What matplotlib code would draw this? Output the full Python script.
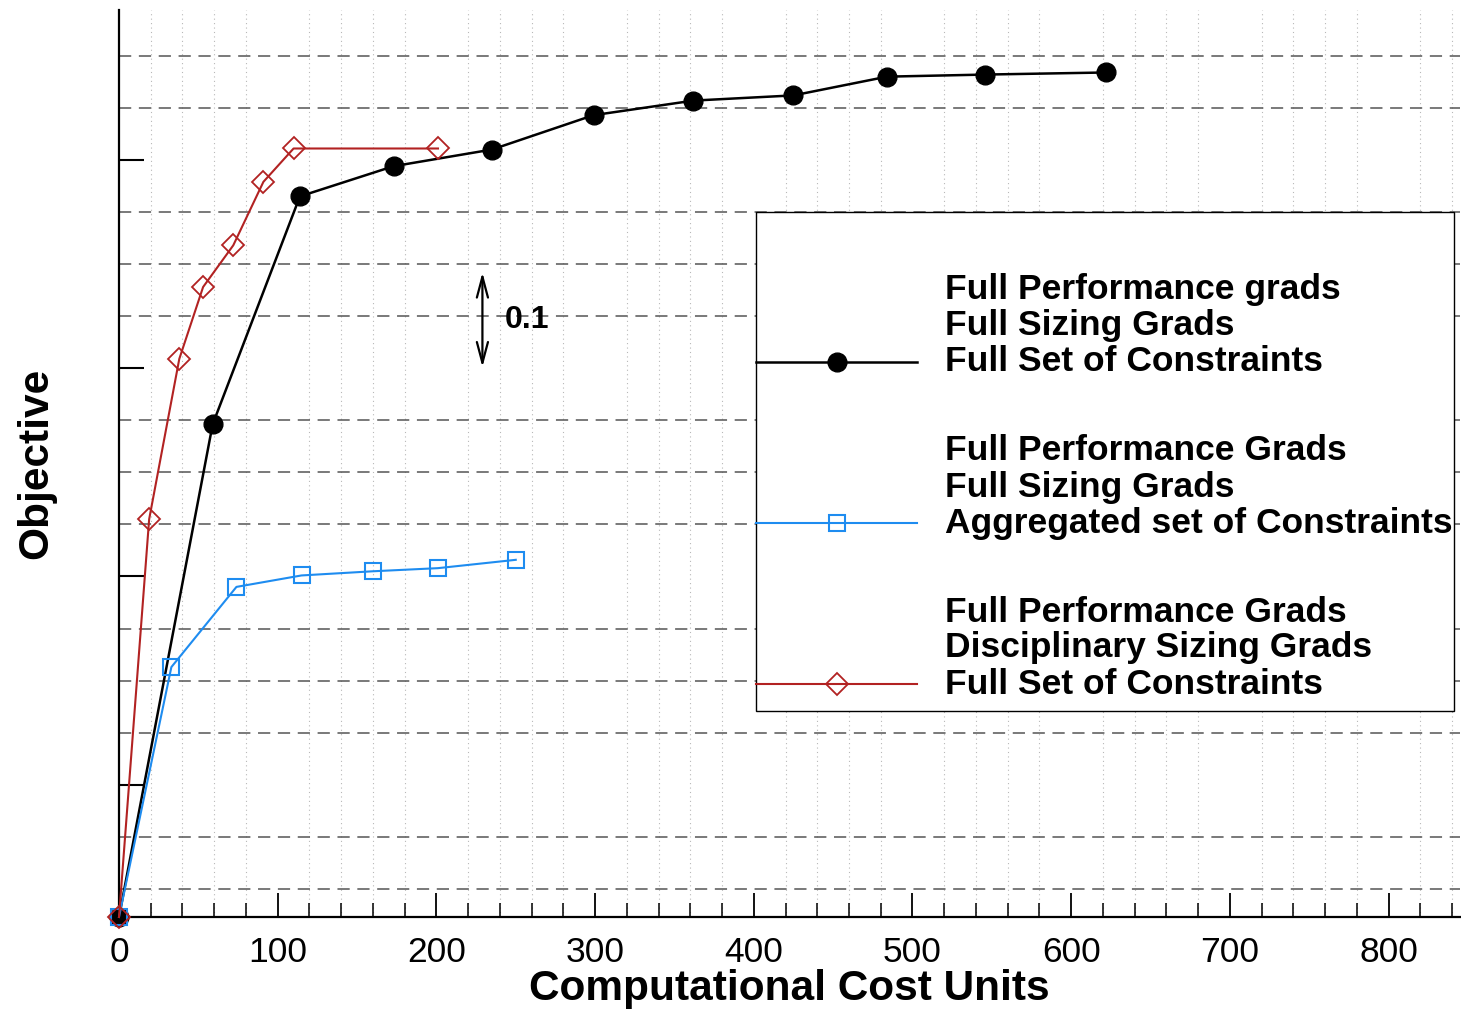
import matplotlib
matplotlib.use("Agg")
import matplotlib.pyplot as plt
from matplotlib.patches import Rectangle
from matplotlib.ticker import MultipleLocator
from matplotlib.lines import Line2D

plt.rcParams["font.family"] = ["Liberation Sans", "DejaVu Sans"]

# data (y in arbitrary objective units, grid step 0.05)
full_x = [0, 59, 114, 173, 235, 299, 362, 425, 484, 546, 622]
full_y = [0.073, 0.546, 0.765, 0.794, 0.810, 0.843, 0.857, 0.862, 0.880, 0.882, 0.884]

agg_x = [0, 33, 74, 115, 160, 201, 250]
agg_y = [0.073, 0.313, 0.390, 0.401, 0.405, 0.408, 0.416]

disc_x = [0, 19, 38, 53, 72, 91, 110, 201]
disc_y = [0.073, 0.455, 0.609, 0.678, 0.718, 0.779, 0.811, 0.811]

labels = [
    ["Full Performance grads", "Full Sizing Grads", "Full Set of Constraints"],
    ["Full Performance Grads", "Full Sizing Grads", "Aggregated set of Constraints"],
    ["Full Performance Grads", "Disciplinary Sizing Grads", "Full Set of Constraints"],
]

RED = "#b22222"
BLUE = "#1e8cf0"

W, H = 1461, 1015
fig = plt.figure(figsize=(W / 100, H / 100), dpi=100)
ax = fig.add_axes([119 / W, 1 - 917 / H, 1341 / W, 907 / H])

ax.set_xlim(0, 845)
ax.set_ylim(0.073, 0.944)

# grid
ax.xaxis.set_major_locator(MultipleLocator(100))
ax.xaxis.set_minor_locator(MultipleLocator(20))
ax.yaxis.set_major_locator(MultipleLocator(0.2))
ax.yaxis.set_minor_locator(MultipleLocator(0.05))
ax.grid(True, which="minor", axis="x", linestyle=(0, (1, 3)), color="#b8b8b8", linewidth=0.8)
ax.grid(True, which="minor", axis="y", linestyle=(0, (8, 5)), color="#555555", linewidth=1.1)
ax.set_axisbelow(True)

ax.tick_params(axis="x", which="major", direction="in", length=17, width=1.3, labelsize=25.5, pad=14)
ax.tick_params(axis="x", which="minor", direction="in", length=10, width=1.1)
ax.tick_params(axis="y", which="major", direction="in", length=18, width=1.5, labelleft=False)
ax.tick_params(axis="y", which="minor", direction="in", length=0)

for s in ["top", "right"]:
    ax.spines[s].set_visible(False)
for s in ["left", "bottom"]:
    ax.spines[s].set_linewidth(1.6)

mk_full = dict(marker="o", ms=13.5, mfc="black")
mk_agg = dict(marker="s", ms=11, mfc="none", mec=BLUE, mew=1.5)
mk_disc = dict(marker="D", ms=11, mfc="none", mec=RED, mew=1.3)

ax.plot(full_x, full_y, color="black", lw=1.8, clip_on=False, zorder=3, **mk_full)
ax.plot(agg_x, agg_y, color=BLUE, lw=1.5, clip_on=False, zorder=4, **mk_agg)
ax.plot(disc_x, disc_y, color=RED, lw=1.5, clip_on=False, zorder=5, **mk_disc)

ax.set_xlabel("Computational Cost Units", fontsize=30.5, fontweight="bold", labelpad=0)
ax.set_ylabel("Objective", fontsize=30.5, fontweight="bold", labelpad=42)

# 0.1 scale arrow
ax.annotate("", xy=(229, 0.601), xytext=(229, 0.692),
            arrowprops=dict(arrowstyle="<->,head_length=1.5,head_width=0.4", color="black", lw=1.6,
                            shrinkA=0, shrinkB=0))
ax.text(243, 0.646, "0.1", fontsize=23, fontweight="bold", va="center", ha="left")


def fx(px):
    return px / W


def fy(py):
    return 1 - py / H


# hand-made legend box
fig.patches.append(Rectangle((fx(756), fy(711)), fx(1454) - fx(756), fy(212) - fy(711),
                             transform=fig.transFigure, facecolor="white", edgecolor="black",
                             linewidth=1.0, zorder=10))
styles = [
    dict(color="black", lw=1.8, **mk_full),
    dict(color=BLUE, lw=1.5, **mk_agg),
    dict(color=RED, lw=1.5, **mk_disc),
]
bottoms = [362, 523, 684]
for lab, st, yb in zip(labels, styles, bottoms):
    fig.add_artist(Line2D([fx(756), fx(917)], [fy(yb), fy(yb)], transform=fig.transFigure,
                          zorder=11, markevery=[], **st))
    fig.add_artist(Line2D([fx(837)], [fy(yb)], transform=fig.transFigure, zorder=12, **st))
    for i, line in enumerate(lab):
        fig.text(fx(945), fy(yb - 36 * (2 - i)), line, fontsize=25.5, fontweight="bold",
                 va="center", ha="left", zorder=12)

fig.savefig("out.png", dpi=100)
